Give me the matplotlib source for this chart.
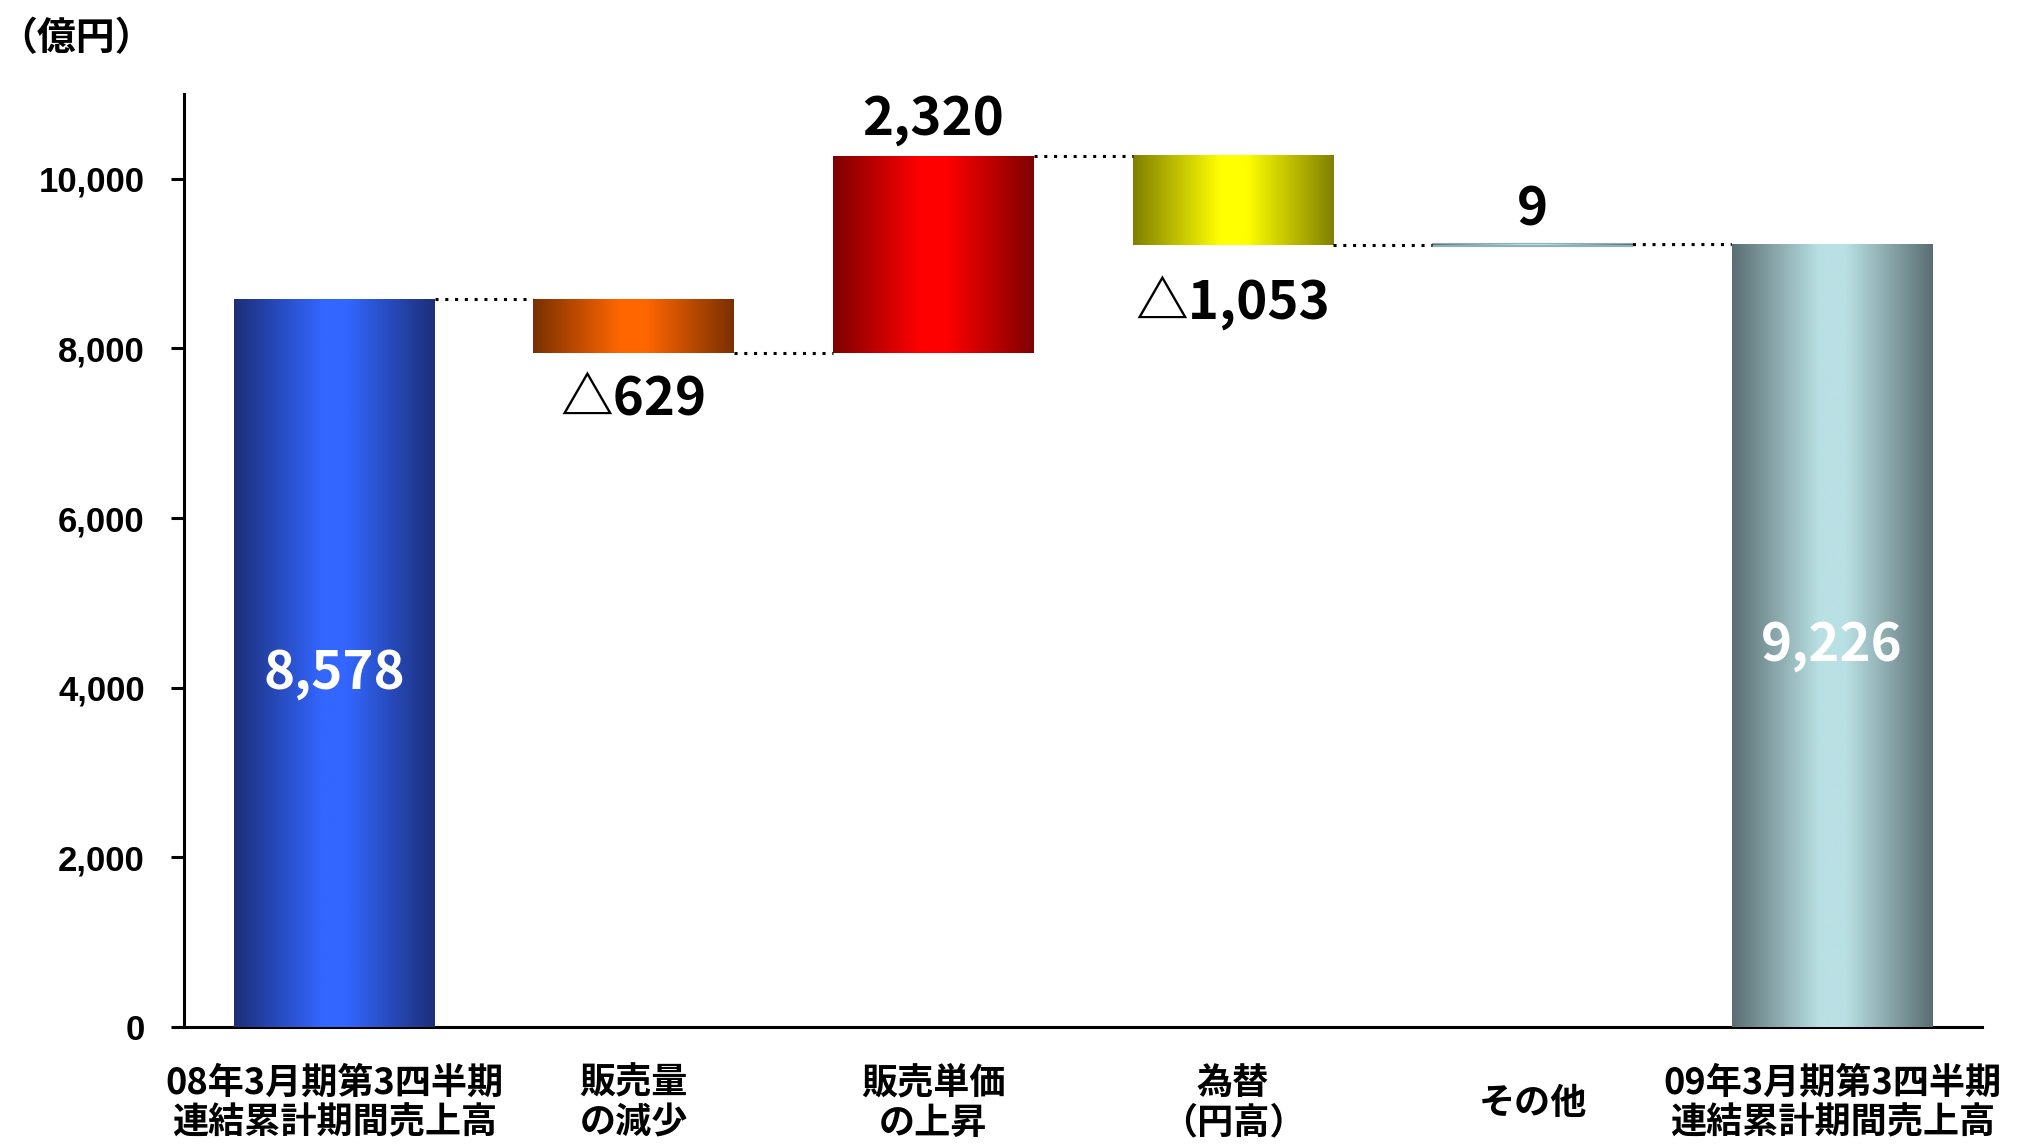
import matplotlib.pyplot as plt
import numpy as np
from matplotlib.colors import to_rgb

plt.rcParams['font.family'] = ['Noto Sans CJK JP', 'DejaVu Sans']

categories = ['08年3月期第3四半期\n連結累計期間売上高', '販売量\nの減少', '販売単価\nの上昇',
              '為替\n（円高）', 'その他', '09年3月期第3四半期\n連結累計期間売上高']
values = [8578, -629, 2320, -1053, 9, 9226]
is_total = [True, False, False, False, False, True]
value_labels = ['8,578', '△629', '2,320', '△1,053', '9', '9,226']
y_ticks = [0, 2000, 4000, 6000, 8000, 10000]
y_tick_labels = ['0', '2,000', '4,000', '6,000', '8,000', '10,000']

dark_colors = ['#1c2f78', '#7a3000', '#7f0000', '#808000', '#5a6e72', '#5a6e72']
bright_colors = ['#3366ff', '#ff6600', '#ff0000', '#ffff00', '#b9e0e4', '#b9e0e4']
# vertical offset of each value label (points) from the bar end it belongs to
label_offsets = [-7.5, -34, 26.5, -42, 25, -7.5]

bar_width = 0.67


def gradient(dark, bright, n=256):
    t = np.linspace(0, 1, n)
    s = 1 - np.abs(2 * t - 1)
    s = np.clip(s * 1.15, 0, 1)
    d, b = np.array(to_rgb(dark)), np.array(to_rgb(bright))
    return (d[None, :] * (1 - s[:, None]) + b[None, :] * s[:, None])[None, :, :]


fig = plt.figure(figsize=(20.22, 11.44), dpi=100)
ax = fig.add_axes([0.0912, 0.1026, 0.889, 0.8151])

xpos = np.arange(len(values))
bottoms, tops, ends = [], [], []
running = 0
for v, tot in zip(values, is_total):
    if tot:
        b, t = 0, v
        running = v
    else:
        b, t = min(running, running + v), max(running, running + v)
        running += v
    bottoms.append(b)
    tops.append(t)
    ends.append(running)

for i, x in enumerate(xpos):
    x0, x1 = x - bar_width / 2, x + bar_width / 2
    if tops[i] - bottoms[i] < 60:
        # very small change: keep it visible like the source
        ax.add_patch(plt.Rectangle((x0, bottoms[i]), bar_width, tops[i] - bottoms[i],
                                   facecolor='#8fb0b4', edgecolor='#8fb0b4', lw=3, zorder=2))
    ax.imshow(gradient(dark_colors[i], bright_colors[i]), extent=[x0, x1, bottoms[i], tops[i]],
              aspect='auto', interpolation='bilinear', zorder=3)

# dotted connectors
for i in range(len(values) - 1):
    start = ends[i]
    nxt = tops[i + 1] if is_total[i + 1] else ends[i]
    ax.plot([xpos[i] + bar_width / 2, xpos[i + 1] - bar_width / 2], [start, nxt],
            color='black', ls=(0, (1, 2.2)), lw=2.2, zorder=4)

# value labels
for i, x in enumerate(xpos):
    if is_total[i]:
        anchor, color = tops[i] / 2, 'white'
    elif values[i] >= 0:
        anchor, color = tops[i], 'black'
    else:
        anchor, color = bottoms[i], 'black'
    ax.annotate(value_labels[i], (x, anchor), xytext=(0, label_offsets[i]), textcoords='offset points',
                ha='center', va='center', fontsize=38, fontweight='bold', color=color, zorder=5)

ax.set_xlim(-0.5, len(values) - 0.5)
ax.set_ylim(0, 11000)
ax.set_yticks(y_ticks, y_tick_labels, fontsize=25, fontweight='bold', family=['Liberation Sans'])
ax.set_xticks(xpos, categories, fontsize=26, fontweight='bold')
for lbl in ax.get_xticklabels():
    lbl.set_va('center')
    lbl.set_linespacing(1.1)
ax.tick_params(axis='x', length=0, pad=55)
ax.tick_params(axis='y', length=9.5, width=2.2, pad=19)

for side in ['top', 'right']:
    ax.spines[side].set_visible(False)
for side in ['left', 'bottom']:
    ax.spines[side].set_linewidth(2.2)

fig.text(-0.001, 0.9665, '（億円）', fontsize=28, fontweight='bold', ha='left', va='center')

fig.savefig('out.png', dpi=100)
plt.close(fig)
